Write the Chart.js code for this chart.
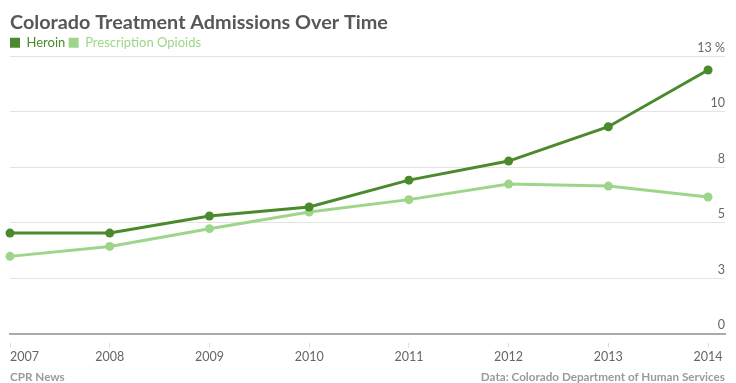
<!DOCTYPE html>
<html><head><meta charset="utf-8">
<script src="https://cdn.jsdelivr.net/npm/chart.js@4/dist/chart.umd.min.js"></script>
<style>
html,body{margin:0;padding:0;background:#fff;}
#wrap{position:relative;width:736px;height:383px;}
canvas{display:block;}
.foot{position:absolute;top:369px;font:bold 11.7px Lato;line-height:14px;color:#9a9a9a;white-space:nowrap;}
</style></head><body>
<div id="wrap">
<canvas id="c" width="736" height="383"></canvas>
<div class="foot" style="left:10px">CPR News</div>
<div class="foot" style="right:11px">Data: Colorado Department of Human Services</div>
</div>
<script>
const titleText = 'Colorado Treatment Admissions Over Time';
const years = [2007, 2008, 2009, 2010, 2011, 2012, 2013, 2014];
const heroin = [4.53, 4.53, 5.30, 5.71, 6.92, 7.78, 9.33, 11.89];
const prescriptionOpioids = [3.48, 3.93, 4.73, 5.48, 6.04, 6.74, 6.65, 6.16];
const yTickValues = [0, 2.5, 5, 7.5, 10, 12.5];
const yTickLabels = ['0', '3', '5', '8', '10', '13 %'];
const seriesNames = ['Heroin', 'Prescription Opioids'];
const seriesColors = ['#4b8a2c', '#9dd68a'];

const xMax = 2014.17;
const FONT = 'Lato';

function lineDataset(name, values, color) {
  return {
    label: name,
    data: years.map((y, i) => ({x: y, y: values[i]})),
    borderColor: color,
    backgroundColor: color,
    pointBackgroundColor: color,
    borderWidth: 3,
    pointRadius: 4.5,
    pointBorderWidth: 0,
    tension: 0,
    clip: false
  };
}

new Chart(document.getElementById('c'), {
  type: 'line',
  data: {
    datasets: [
      lineDataset(seriesNames[0], heroin, seriesColors[0]),
      lineDataset(seriesNames[1], prescriptionOpioids, seriesColors[1])
    ]
  },
  options: {
    responsive: false,
    animation: false,
    events: [],
    layout: { padding: { top: 11, left: 10, right: 11, bottom: 16.5 } },
    plugins: {
      title: {
        display: true,
        text: titleText,
        align: 'start',
        color: '#575757',
        font: { family: FONT, size: 19.8, weight: 'bold', lineHeight: 1.2 },
        padding: { top: 0, bottom: 1.5 }
      },
      legend: {
        display: true,
        position: 'top',
        align: 'start',
        maxHeight: 20.2,
        labels: {
          boxWidth: 10,
          boxHeight: 10,
          padding: 0,
          font: { family: FONT, size: 13 },
          generateLabels: (chart) => chart.data.datasets.map((ds, i) => ({
            text: ds.label + ' ',
            fillStyle: seriesColors[i],
            strokeStyle: seriesColors[i],
            fontColor: seriesColors[i],
            lineWidth: 0,
            hidden: false,
            datasetIndex: i
          }))
        }
      },
      tooltip: { enabled: false }
    },
    scales: {
      x: {
        type: 'linear',
        min: years[0],
        max: xMax,
        afterBuildTicks: (axis) => {
          axis.ticks = years.map(v => ({value: v})).concat([{value: xMax}]);
        },
        grid: {
          drawOnChartArea: false,
          drawTicks: true,
          tickLength: 14,
          tickBorderDash: [0, 8, 6, 0],
          color: (ctx) => (ctx.tick && ctx.tick.value > years[years.length - 1]) ? 'rgba(0,0,0,0)' : '#dedede',
          lineWidth: 1
        },
        border: { display: true, color: '#aaaaaa', width: 2 },
        ticks: {
          autoSkip: false,
          maxRotation: 0,
          align: 'inner',
          padding: 2,
          color: '#666666',
          font: { family: FONT, size: 12.5 },
          callback: (v) => years.includes(v) ? String(v) : ''
        }
      },
      y: {
        type: 'linear',
        position: 'right',
        min: 0,
        max: yTickValues[yTickValues.length - 1],
        afterBuildTicks: (axis) => {
          axis.ticks = yTickValues.map(v => ({value: v}));
        },
        grid: {
          drawTicks: false,
          color: '#e4e4e4',
          lineWidth: 1
        },
        border: { display: false },
        ticks: {
          mirror: true,
          padding: 0,
          labelOffset: -8.5,
          color: '#666666',
          font: { family: FONT, size: 12.5 },
          callback: (v) => yTickLabels[yTickValues.indexOf(v)]
        }
      }
    }
  }
});
</script>
</body></html>
